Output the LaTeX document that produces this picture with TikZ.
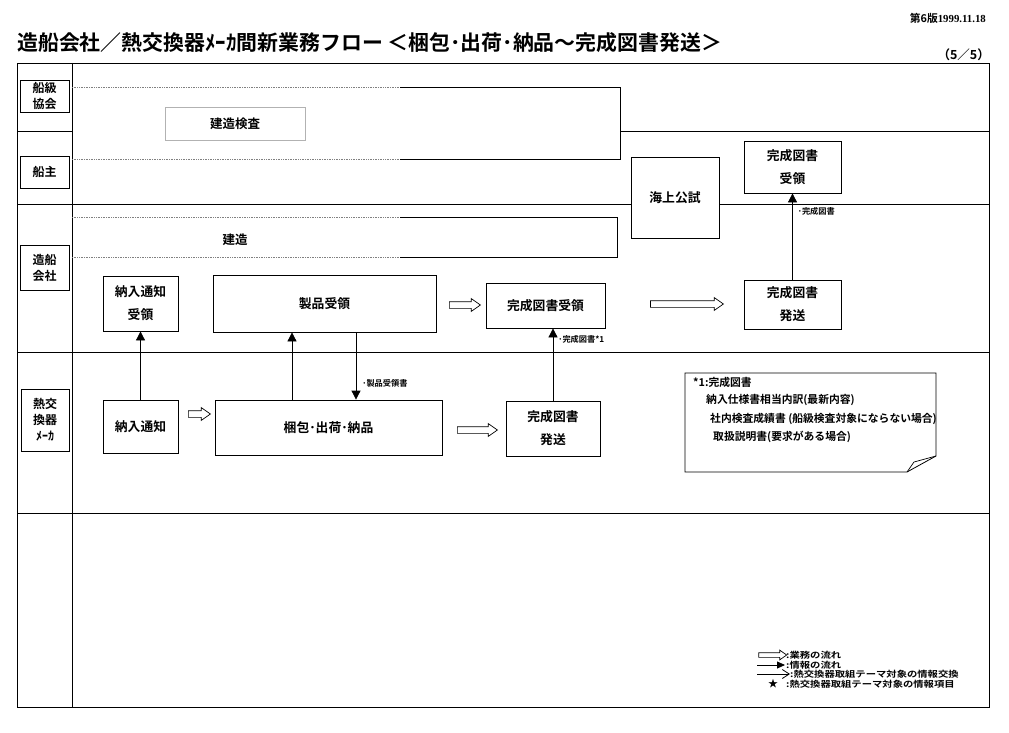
\documentclass[tikz,border=0pt]{standalone}
\usepackage{fontspec}
\setmainfont{Noto Sans CJK JP}[BoldFont={Noto Sans CJK JP Bold}]
\newfontfamily\legfont{Noto Sans CJK JP Bold}[FakeStretch=1.2]
\newfontfamily\serifnum{Liberation Serif}
\usetikzlibrary{shapes.arrows,arrows.meta,calc}
\begin{document}
\begin{tikzpicture}[x=1pt,y=-1pt,
  frameline/.style={line width=0.9pt},
  box/.style={draw, line width=0.8pt, inner sep=0pt, align=center, font=\bfseries\fontsize{12.8}{23}\selectfont},
  lab/.style={draw, line width=0.8pt, inner sep=0pt, align=center, font=\bfseries\fontsize{12}{16}\selectfont},
  info/.style={-{Triangle[length=9pt,width=9pt]}, line width=0.8pt},
  flow/.style={single arrow, draw, line width=0.7pt, inner xsep=0pt, inner ysep=3pt, minimum width=0pt,
    single arrow head extend=3pt, single arrow tip angle=70},
  smalltxt/.style={font=\bfseries\fontsize{8.2}{9}\selectfont, anchor=west, inner sep=0pt},
  notetxt/.style={font=\bfseries\fontsize{10.8}{12}\selectfont, anchor=west, inner sep=0pt},
  legtxt/.style={font=\legfont\fontsize{8.6}{9}\selectfont, anchor=west, inner sep=0pt},
  dotline/.style={gray, line width=0.7pt, densely dotted}
]
\useasboundingbox (0,0) rectangle (1009,733);

% title and header
\node[anchor=west, inner sep=0pt, font=\bfseries\fontsize{20.9}{22}\selectfont] (title) at (17,43)
  {造船会社／熱交換器ﾒｰｶ間新業務フロー ＜梱包･出荷･納品～完成図書発送＞};
\node[anchor=east, inner sep=0pt, font=\bfseries\fontsize{10.8}{11}\selectfont] (ver) at (986,18)
  {第6版{\serifnum 1999.11.18}};
\node[anchor=east, inner sep=0pt, font=\bfseries\fontsize{12.5}{13}\selectfont] (page) at (990,55) {（5／5）};

% frame and lanes
\draw[frameline] (17,63) rectangle (989,707);
\draw[frameline] (72,63) -- (72,707);
\draw[frameline] (17,131) -- (72,131);
\draw[frameline] (620,131) -- (989,131);
\draw[frameline] (17,352) -- (989,352);
\draw[frameline] (17,513) -- (989,513);

% lane labels
\node[lab, minimum width=49pt, minimum height=32pt] (l1) at (44.5,96) {船級\\協会};
\node[lab, minimum width=49pt, minimum height=32pt] (l2) at (44.5,172) {船主};
\node[lab, minimum width=49pt, minimum height=45pt] (l3) at (44.5,267.5) {造船\\会社};
\node[lab, minimum width=48pt, minimum height=62pt] (l4) at (45,420) {熱交\\換器\\ﾒｰｶ};

% classification society band
\draw[dotline] (72,87) -- (400,87);
\draw[dotline] (72,159) -- (400,159);
\draw[line width=0.8pt] (400,87) -- (620,87) -- (620,159) -- (400,159);
\node[draw=gray!60, line width=0.8pt, minimum width=140pt, minimum height=33pt, inner sep=0pt,
  font=\bfseries\fontsize{12.5}{14}\selectfont] (kensa) at (235,123.5) {建造検査};

% construction band
\draw[dotline] (72,217) -- (400,217);
\draw[dotline] (72,257) -- (400,257);
\draw[line width=0.8pt] (400,217) -- (617,217) -- (617,257) -- (400,257);
\node[inner sep=0pt, font=\bfseries\fontsize{12.5}{14}\selectfont] (kenzo) at (235,240) {建造};

% owner / shipbuilder boundary with sea trial box
\node[box, minimum width=88pt, minimum height=81pt] (kaijo) at (675,197.5) {海上公試};
\coordinate (yb) at (0,204);
\draw[frameline] (17,204) -- (kaijo.west |- yb);
\draw[frameline] (kaijo.east |- yb) -- (989,204);

% boxes
\node[box, minimum width=97pt, minimum height=52pt, fill=white] (kanjuo) at (792.5,167) {完成図書\\受領};
\node[box, minimum width=75pt, minimum height=55pt] (nyr) at (140.5,303.5) {納入通知\\受領};
\node[box, minimum width=223pt, minimum height=57pt] (seihin) at (324.5,303.5) {製品受領};
\node[box, minimum width=119pt, minimum height=45pt] (kanju) at (545.5,305.5) {完成図書受領};
\node[box, minimum width=97pt, minimum height=49pt] (kanhas) at (792.5,304.5) {完成図書\\発送};
\node[box, minimum width=75pt, minimum height=53pt] (nt) at (140.5,426.5) {納入通知};
\node[box, minimum width=227pt, minimum height=55pt] (konpo) at (328.5,427.5) {梱包･出荷･納品};
\node[box, minimum width=94pt, minimum height=55pt] (kanhasm) at (553,428.5) {完成図書\\発送};

% information arrows
\coordinate (xa) at (292,0);
\coordinate (xb) at (356,0);
\draw[info] (nt.north) -- (nyr.south);
\draw[info] (konpo.north -| xa) -- (seihin.south -| xa);
\draw[info] (seihin.south -| xb) -- (konpo.north -| xb)
  node[smalltxt, pos=0.76, xshift=6pt] {･製品受領書};
\draw[info] (kanhasm.north) -- (kanhasm.north |- kanju.south)
  node[smalltxt, pos=0.85, xshift=5pt] {･完成図書*1};
\draw[info] (kanhas.north) -- (kanjuo.south)
  node[smalltxt, pos=0.79, xshift=5pt] {･完成図書};

% business flow arrows
\node[flow, minimum height=22pt] (f1) at (197,414) {};
\node[flow, minimum height=31pt] (f2) at (462.5,305) {};
\node[flow, minimum height=40pt] (f3) at (475,430) {};
\node[flow, minimum height=73pt] (f4) at (684.5,304) {};

% note
\draw[line width=0.8pt] (685,373) -- (936,373) -- (936,456) -- (907,472) -- (685,472) -- cycle;
\draw[line width=0.7pt] (907,472) -- (914,462) -- (936,456);
\node[notetxt] (n1) at (693,382) {*1:完成図書};
\node[notetxt] (n2) at (706,400) {納入仕様書相当内訳(最新内容)};
\node[notetxt] (n3) at (710,419) {社内検査成績書 (船級検査対象にならない場合)};
\node[notetxt] (n4) at (713,437) {取扱説明書(要求がある場合)};

% legend
\node[flow, minimum height=28pt, inner ysep=2pt, single arrow head extend=2.5pt] (lg1) at (771,655) {};
\coordinate (lga) at (757,665);
\coordinate (lgb) at (785,665);
\draw[-{Triangle[length=8pt,width=7pt]}, line width=0.8pt] (lga) -- (lgb);
\coordinate (lgc) at (757,674);
\coordinate (lgd) at (790,674);
\draw[-{Straight Barb[length=7pt,width=9pt]}, line width=0.8pt] (lgc) -- (lgd);
\node[inner sep=0pt, font=\fontsize{10}{10}\selectfont] (lgs) at (773,684) {★};
\node[legtxt] (t1) at (786,655) {:業務の流れ};
\node[legtxt] (t2) at (786,665) {:情報の流れ};
\node[legtxt] (t3) at (790,674) {:熱交換器取組テーマ対象の情報交換};
\node[legtxt] (t4) at (786,684) {:熱交換器取組テーマ対象の情報項目};
\end{tikzpicture}
\end{document}
